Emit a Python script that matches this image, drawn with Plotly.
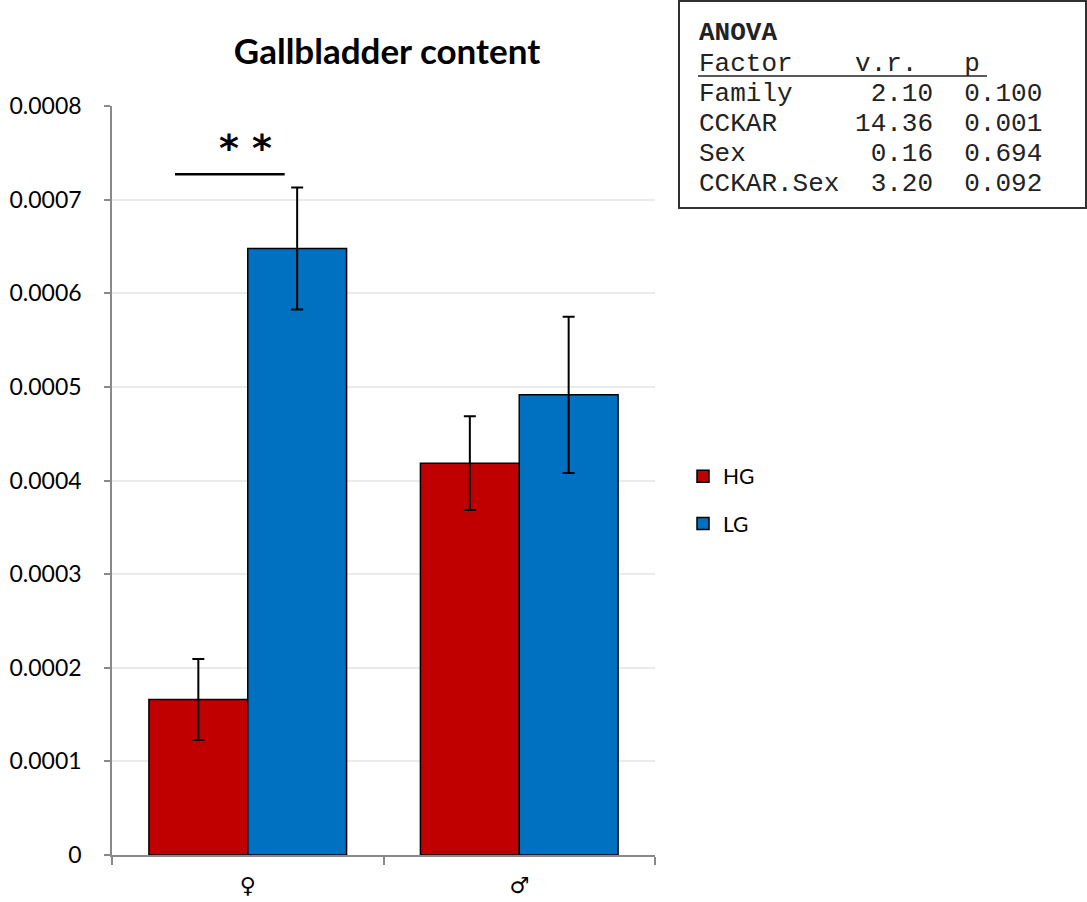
import plotly.graph_objects as go

# Group means and standard errors
sexes = ["♀", "♂"]
hg_values = [0.000166, 0.0004185]
hg_errors = [0.0000433, 0.0000500]
lg_values = [0.0006478, 0.0004915]
lg_errors = [0.0000652, 0.0000835]

# ANOVA summary table
anova_factors = ["Family", "CCKAR", "Sex", "CCKAR.Sex"]
anova_vr = ["2.10", "14.36", "0.16", "3.20"]
anova_p = ["0.100", "0.001", "0.694", "0.092"]

# y-axis ticks
y_tickvals = [0, 0.0001, 0.0002, 0.0003, 0.0004, 0.0005, 0.0006, 0.0007, 0.0008]
y_ticktext = ["0", "0.0001", "0.0002", "0.0003", "0.0004", "0.0005", "0.0006", "0.0007", "0.0008"]

W, H = 1087, 902
L, R, T, B = 112, 655, 106, 855  # plot area in pixels


def px_x(px):
    return (px - L) / (R - L)


def px_y(py):
    return (B - py) / (B - T)


fig = go.Figure()
fig.add_trace(go.Bar(
    name="HG", x=sexes, y=hg_values, legendgroup="HG",
    marker=dict(color="#C00000", line=dict(color="black", width=1.5)),
    error_y=dict(type="data", array=hg_errors, color="black", thickness=2, width=6),
))
fig.add_trace(go.Bar(
    name="LG", x=sexes, y=lg_values, legendgroup="LG",
    marker=dict(color="#0070C0", line=dict(color="black", width=1.5)),
    error_y=dict(type="data", array=lg_errors, color="black", thickness=2, width=6),
))

# Significance bar over the female pair
fig.add_shape(type="line", xref="x", yref="y", x0=-0.268, x1=0.136,
              y0=0.000727, y1=0.000727, line=dict(color="black", width=2.5))
fig.add_annotation(x=-0.01, y=0.000727, xref="x", yref="y", text="<b>* *</b>",
                   showarrow=False, yanchor="bottom", yshift=2,
                   font=dict(family="DejaVu Sans", size=38, color="black"))

# ANOVA box
fig.add_shape(type="rect", xref="paper", yref="paper",
              x0=px_x(679), x1=px_x(1086), y0=px_y(208), y1=px_y(1),
              line=dict(color="#303030", width=2), fillcolor="white", layer="above")

NB = "\u00a0"
mono = dict(family="Liberation Mono", size=26, color="#222222")
rows = ["<b>ANOVA</b>", f"Factor{NB*4}v.r.{NB*3}p"]
for f, v, p in zip(anova_factors, anova_vr, anova_p):
    line = f"{f:<10}{v:>5}  {p}"
    rows.append(line.replace(" ", NB))
row_y = [33, 64, 94, 124, 154, 184]
for txt, ry in zip(rows, row_y):
    fig.add_annotation(x=px_x(697), y=px_y(ry), xref="paper", yref="paper",
                       text=txt, showarrow=False, xanchor="left", yanchor="middle",
                       font=mono)
fig.add_shape(type="line", xref="paper", yref="paper",
              x0=px_x(698), x1=px_x(987), y0=px_y(76), y1=px_y(76),
              line=dict(color="#222222", width=1.5))

fig.update_layout(
    width=W, height=H,
    margin=dict(l=L, r=W - R, t=T, b=H - B, pad=0, autoexpand=False),
    paper_bgcolor="white", plot_bgcolor="white",
    barmode="group", bargap=0.272, bargroupgap=0,
    font=dict(family="Lato", color="black"),
    title=dict(text="<b>Gallbladder content</b>", x=px_x(387), xanchor="center",
               y=1 - 52 / H, yanchor="middle", xref="paper",
               font=dict(family="Lato", size=35, color="black")),
    legend=dict(x=px_x(683), y=px_y(500), xanchor="left", yanchor="middle",
                font=dict(family="Lato", size=21, color="black"),
                tracegroupgap=17, bgcolor="rgba(0,0,0,0)"),
    showlegend=True,
)
fig.update_xaxes(
    showline=True, linecolor="#898989", linewidth=1.5,
    ticks="outside", tickson="boundaries", ticklen=8, tickcolor="#898989", tickwidth=1.5,
    tickfont=dict(family="DejaVu Sans", size=22, color="black"), ticklabelstandoff=10,
    showgrid=False, automargin=False,
)
fig.update_yaxes(
    range=[0, 0.0008], tickvals=y_tickvals, ticktext=y_ticktext,
    showline=True, linecolor="#898989", linewidth=1.5,
    ticks="outside", ticklen=6, tickcolor="#898989", tickwidth=1.5,
    showgrid=True, gridcolor="#ebebeb", gridwidth=1.5,
    tickfont=dict(family="Lato", size=23, color="black"), ticklabelstandoff=18,
    zeroline=False, automargin=False,
)

fig.write_html("out.html")
